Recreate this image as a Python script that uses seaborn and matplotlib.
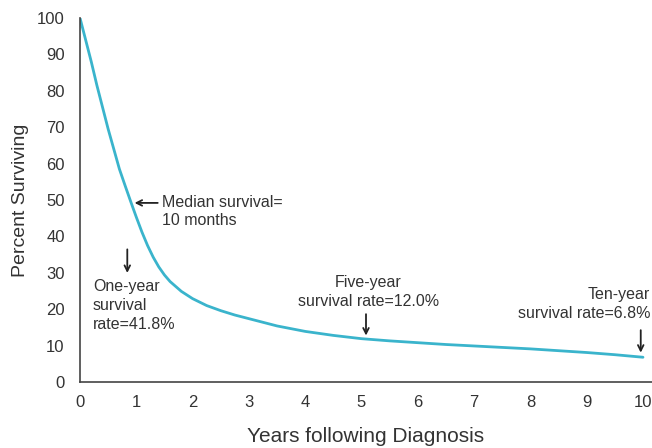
import matplotlib
matplotlib.use('Agg')
import matplotlib.pyplot as plt
import seaborn as sns
import pandas as pd

# Survival curve
years = [0, 0.1, 0.2, 0.3, 0.4, 0.5, 0.6, 0.7, 0.8, 0.9, 1.0, 1.1, 1.2, 1.3, 1.4, 1.5, 1.6,
         1.8, 2.0, 2.25, 2.5, 2.75, 3.0, 3.5, 4.0, 4.5, 5.0, 5.5, 6.0, 6.5, 7.0, 7.5, 8.0,
         8.5, 9.0, 9.5, 10.0]
surviving = [100, 94, 88, 81.5, 75.5, 69.5, 64, 58.5, 54, 49.6, 45.3, 41.2, 37.5, 34.3, 31.6,
             29.4, 27.6, 24.9, 22.9, 21, 19.6, 18.4, 17.4, 15.4, 13.9, 12.8, 11.9, 11.3, 10.8,
             10.3, 9.9, 9.5, 9.1, 8.6, 8.1, 7.5, 6.8]
df = pd.DataFrame({'years': years, 'surviving': surviving})

x_ticks = list(range(0, 11))
y_ticks = list(range(0, 101, 10))

sns.set_style('white')
plt.rcParams['font.family'] = ['Liberation Sans', 'DejaVu Sans']

txt = '#333333'
axc = '#444444'
curve = '#3ab4cc'

fig = plt.figure(figsize=(6.52, 4.48), dpi=100)
ax = fig.add_axes([80 / 652, 1 - 382 / 448, 1 - 80 / 652, (382 - 18) / 448])

sns.lineplot(data=df, x='years', y='surviving', ax=ax, color=curve, linewidth=2)

ax.set_xlim(0, 10.16)
ax.set_ylim(0, 100)
ax.set_xticks(x_ticks)
ax.set_yticks(y_ticks)
ax.tick_params(axis='both', colors=axc, labelcolor=txt, labelsize=12, width=1.2)
ax.tick_params(axis='y', length=8, pad=3)
ax.tick_params(axis='x', length=6)
for s in ['top', 'right']:
    ax.spines[s].set_visible(False)
for s in ['left', 'bottom']:
    ax.spines[s].set_color(axc)
    ax.spines[s].set_linewidth(1.2)
ax.set_xlabel('Years following Diagnosis', fontsize=15, color=txt, labelpad=12)
ax.set_ylabel('Percent Surviving', fontsize=14, color=txt, labelpad=6)

arrow = dict(arrowstyle='->', color='#222222', lw=1.3)
fs = 11.5

ax.annotate('', xy=(0.92, 49.2), xytext=(1.43, 49.2), arrowprops=arrow)
ax.text(1.45, 51.5, 'Median survival=\n10 months', ha='left', va='top', fontsize=fs,
        color=txt, linespacing=1.3)

ax.annotate('', xy=(0.84, 29.2), xytext=(0.84, 37.2), arrowprops=arrow)
ax.text(0.23, 28.2, 'One-year\nsurvival\nrate=41.8%', ha='left', va='top', fontsize=fs,
        color=txt, linespacing=1.3)

ax.annotate('', xy=(5.08, 12.0), xytext=(5.08, 19.4), arrowprops=arrow)
ax.text(5.12, 29.3, 'Five-year\nsurvival rate=12.0%', ha='center', va='top', fontsize=fs,
        color=txt, linespacing=1.3)

ax.annotate('', xy=(9.96, 7.3), xytext=(9.96, 15.0), arrowprops=arrow)
ax.text(10.13, 26.0, 'Ten-year\nsurvival rate=6.8%', ha='right', va='top', fontsize=fs,
        color=txt, linespacing=1.3, clip_on=False)

fig.savefig('out.png', dpi=100)
